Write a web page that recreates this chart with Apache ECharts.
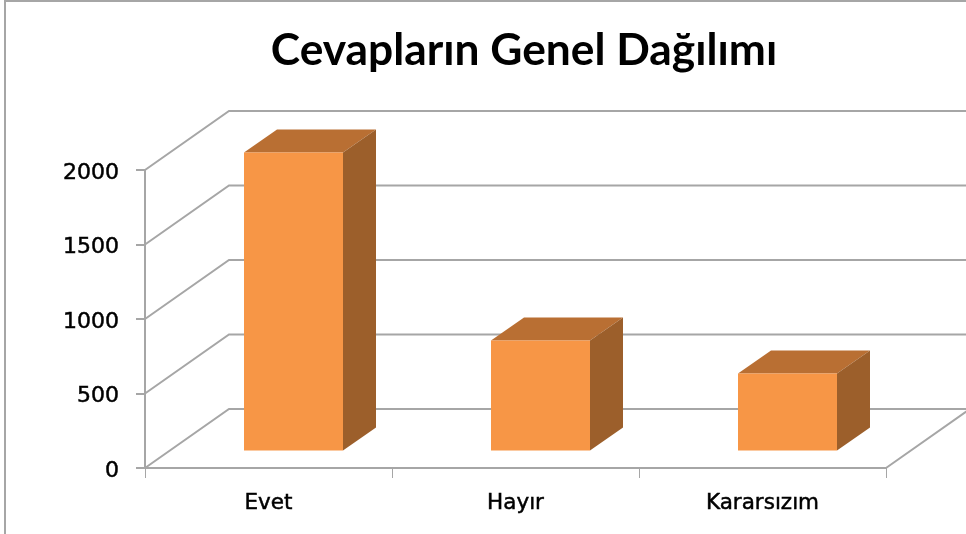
<!DOCTYPE html>
<html>
<head>
<meta charset="utf-8">
<style>
html, body { margin: 0; padding: 0; background: #fff; }
#frame { position: absolute; left: 4px; top: 0; width: 962px; height: 534px; box-sizing: border-box; border-left: 2px solid #a6a6a6; border-top: 2px solid #a6a6a6; }
#chart { position: absolute; left: 0; top: 0; width: 966px; height: 534px; }
</style>
<script src="https://cdn.jsdelivr.net/npm/echarts@6/dist/echarts.min.js"></script>
</head>
<body>
<div id="frame"></div>
<div id="chart"></div>
<script>
var categories = ['Evet', 'Hayır', 'Kararsızım'];
var answers = [2000, 738, 517];
var yTicks = [0, 500, 1000, 1500, 2000];

var lineColor = '#a6a6a6';
// how far the walls and the bars are pushed back by the fake 3d
var wallDx = 84, wallDy = -59;
var barDx = 25, barDy = -17.5;
var depthDx = 33, depthDy = -23;
var barWidth = 99;

function renderWall(params, api) {
    var sys = params.coordSys;
    var y = api.coord([0, api.value(1)])[1];
    var pts = [
        [sys.x, y],
        [sys.x + wallDx, y + wallDy],
        [sys.x + sys.width + wallDx, y + wallDy]
    ];
    // the floor also has a right hand edge
    if (api.value(1) === 0) {
        pts.push([sys.x + sys.width, y]);
    }
    return {
        type: 'polyline',
        shape: { points: pts },
        style: { fill: 'none', stroke: lineColor, lineWidth: 2 },
        silent: true
    };
}

function renderBar(params, api) {
    var top = api.coord([api.value(0), api.value(1)]);
    var base = api.coord([api.value(0), 0]);
    var l = top[0] + barDx - barWidth / 2;
    var r = l + barWidth;
    var t = top[1] + barDy;
    var b = base[1] + barDy;
    return {
        type: 'group',
        children: [
            {
                type: 'polygon',
                shape: { points: [[l, t], [l + depthDx, t + depthDy], [r + depthDx, t + depthDy], [r, t]] },
                style: { fill: '#b96f33' }
            },
            {
                type: 'polygon',
                shape: { points: [[r, t], [r + depthDx, t + depthDy], [r + depthDx, b + depthDy], [r, b]] },
                style: { fill: '#9c5f2b' }
            },
            {
                type: 'rect',
                shape: { x: l, y: t, width: barWidth, height: b - t },
                style: { fill: '#f79646' }
            }
        ]
    };
}

var chart = echarts.init(document.getElementById('chart'), null, { renderer: 'canvas' });
chart.setOption({
    animation: false,
    backgroundColor: 'transparent',
    title: {
        text: 'Cevapların Genel Dağılımı',
        left: 519,
        top: 24,
        textAlign: 'center',
        textStyle: { fontFamily: 'Lato', fontWeight: 'bold', fontSize: 44.3, color: '#000' }
    },
    grid: { left: 145, right: 80, top: 170, bottom: 66 },
    xAxis: {
        type: 'category',
        data: categories,
        axisLine: { lineStyle: { color: lineColor, width: 2 } },
        axisTick: { show: true, length: 10, lineStyle: { color: lineColor, width: 1 } },
        axisLabel: {
            margin: 24,
            color: '#000',
            fontFamily: 'DejaVu Sans',
            fontSize: 21.5,
            textBorderColor: '#000',
            textBorderWidth: 0.5
        }
    },
    yAxis: {
        type: 'value',
        min: 0,
        max: 2000,
        interval: 500,
        splitLine: { show: false },
        axisLine: { show: true, lineStyle: { color: lineColor, width: 2 } },
        axisTick: { show: true, length: 9, lineStyle: { color: lineColor, width: 2 } },
        axisLabel: {
            margin: 26,
            color: '#000',
            fontFamily: 'DejaVu Sans',
            fontSize: 22,
            verticalAlign: 'top',
            lineHeight: 6,
            textBorderColor: '#000',
            textBorderWidth: 0.5,
            formatter: function (v) { return String(v); }
        }
    },
    series: [
        {
            type: 'custom',
            name: 'walls',
            clip: false,
            silent: true,
            renderItem: renderWall,
            encode: { x: 0, y: 1 },
            data: yTicks.map(function (v) { return [0, v]; })
        },
        {
            type: 'custom',
            name: 'Cevaplar',
            clip: false,
            renderItem: renderBar,
            encode: { x: 0, y: 1 },
            data: answers.map(function (v, i) { return [i, v]; })
        }
    ]
});
</script>
</body>
</html>
